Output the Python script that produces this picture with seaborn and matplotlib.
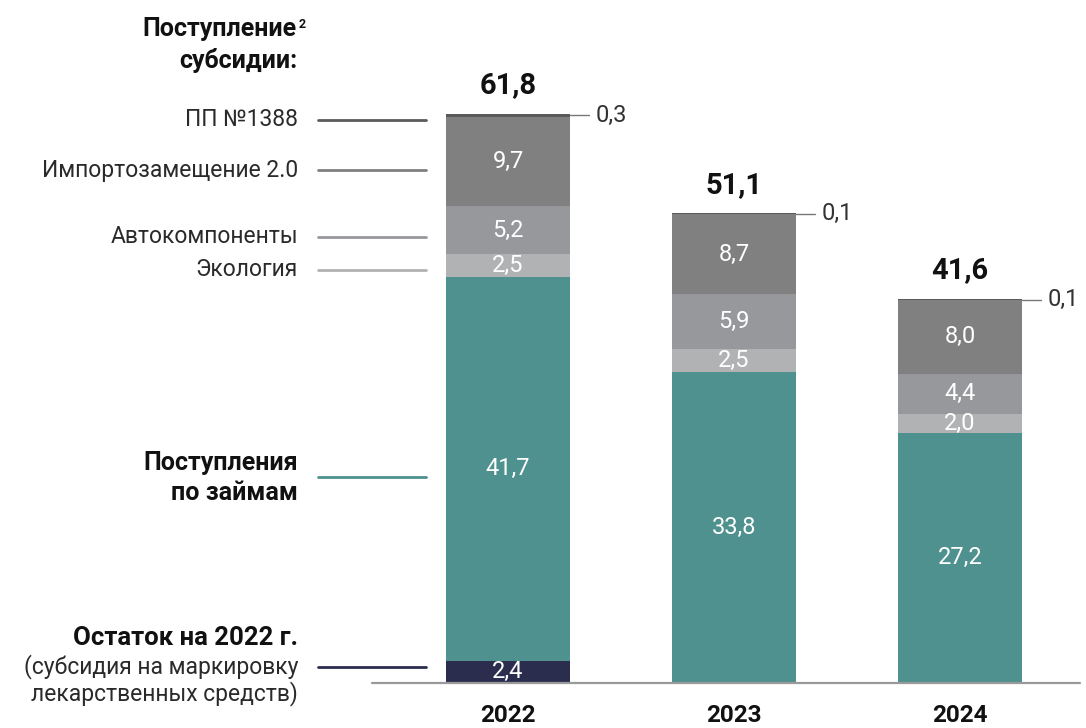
import matplotlib
matplotlib.use("Agg")
import matplotlib.pyplot as plt
import seaborn as sns
import numpy as np

sns.set_theme(style="white")
plt.rcParams['font.family'] = ['Roboto', 'DejaVu Sans']

years = ["2022", "2023", "2024"]
ostatok = [2.4, 0.0, 0.0]
zaimy = [41.7, 33.8, 27.2]
ekologiya = [2.5, 2.5, 2.0]
avto = [5.2, 5.9, 4.4]
import_zam = [9.7, 8.7, 8.0]
pp1388 = [0.3, 0.1, 0.1]
totals = ["61,8", "51,1", "41,6"]

segments = [ostatok, zaimy, ekologiya, avto, import_zam, pp1388]
colors = ["#2B2D4F", "#4E918E", "#B1B2B3", "#97989C", "#808080", "#5B5B5B"]

# labels on the left (y in reference pixels)
left_labels = ["ПП №1388", "Импортозамещение 2.0", "Автокомпоненты", "Экология"]
left_label_y = [120, 170, 237, 270]
left_label_col = [5, 4, 3, 2]

W, H = 1086, 728
fx = lambda px: px / W
fy = lambda py: 1 - py / H

fig = plt.figure(figsize=(W / 100, H / 100), dpi=100)
ax = fig.add_axes([fx(372), 45 / H, fx(1080) - fx(372), 683 / H])

cum = np.cumsum(np.array(segments), axis=0)
bw = 124 / 226
for i in range(len(segments) - 1, -1, -1):
    sns.barplot(x=years, y=cum[i], color=colors[i], width=bw, saturation=1,
                linewidth=0, ax=ax)

ax.set_xlim(-0.602, 2.531)
ax.set_ylim(0, 683 / 9.207)
for s in ax.spines.values():
    s.set_visible(False)
ax.set_yticks([])
ax.set_ylabel("")
ax.set_xlabel("")
ax.tick_params(axis="x", length=0, pad=15)
ax.set_xticks(range(3))
ax.set_xticklabels(years, fontsize=17.5, fontweight="bold", color="#111111")
ax.plot([-0.602, 2.531], [0, 0], color="#9A9A9A", lw=1.6, clip_on=False)

# values inside the segments
for j in range(3):
    for i in range(5):
        v = segments[i][j]
        if v <= 0:
            continue
        mid = cum[i][j] - v / 2
        ax.text(j, mid, f"{v:.1f}".replace(".", ","), ha="center", va="center",
                color="white", fontsize=17)
    top = cum[-1][j]
    ax.text(j, top + 1.6, totals[j], ha="center", va="bottom", fontsize=21,
            fontweight="bold", color="#111111")
    # small top segment callout
    xr = j + bw / 2
    ax.plot([xr, xr + 0.085], [top - pp1388[j] / 2] * 2, color="#777777", lw=1,
            clip_on=False)
    ax.text(xr + 0.115, top - pp1388[j] / 2, f"{pp1388[j]:.1f}".replace(".", ","),
            ha="left", va="center", fontsize=17, color="#333333")

# left legend lines and labels
for lab, py, ci in zip(left_labels, left_label_y, left_label_col):
    fig.add_artist(plt.Line2D([fx(318), fx(426)], [fy(py), fy(py)],
                              color=colors[ci], lw=2))
    fig.text(fx(298), fy(py), lab, ha="right", va="center", fontsize=16.5,
             color="#2A2A2A")

fig.add_artist(plt.Line2D([fx(318), fx(426)], [fy(477), fy(477)], color=colors[1], lw=2))
fig.text(fx(298), fy(478), "Поступления\nпо займам", ha="right", va="center",
         fontsize=18, fontweight="bold", color="#111111", linespacing=1.3)

fig.add_artist(plt.Line2D([fx(318), fx(426)], [fy(667), fy(667)], color=colors[0], lw=2))
fig.text(fx(298), fy(638), "Остаток на 2022 г.", ha="right", va="center",
         fontsize=18.5, fontweight="bold", color="#111111")
fig.text(fx(298), fy(680), "(субсидия на маркировку\nлекарственных средств)",
         ha="right", va="center", fontsize=16.5, color="#2A2A2A", linespacing=1.1)

fig.text(fx(297), fy(45), "Поступление\nсубсидии:", ha="right", va="center",
         fontsize=18, fontweight="bold", color="#111111", linespacing=1.35)
fig.text(fx(299), fy(24), "2", ha="left", va="center", fontsize=9,
         fontweight="bold", color="#111111")

fig.savefig("out.png", dpi=100)
